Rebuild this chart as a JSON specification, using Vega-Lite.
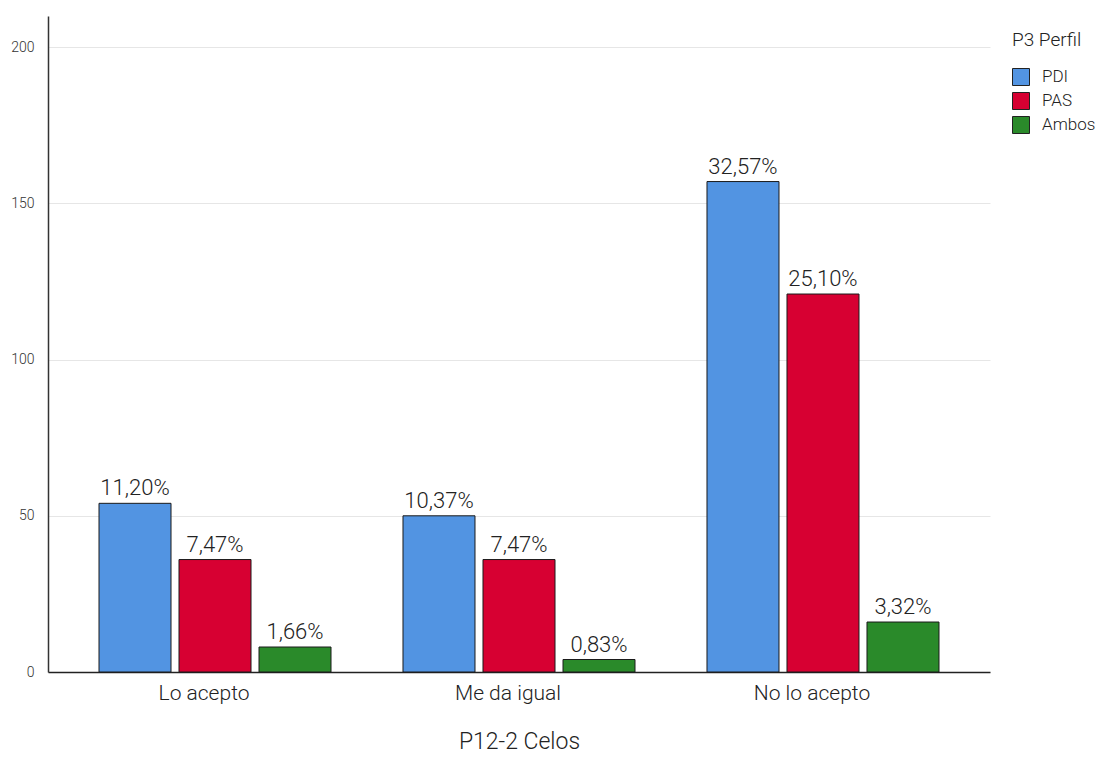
{
  "$schema": "https://vega.github.io/schema/vega-lite/v6.json",
  "width": 942,
  "height": 656,
  "autosize": {"type": "none"},
  "padding": {"left": 48, "top": 16, "right": 114, "bottom": 85},
  "background": "white",
  "config": {
    "font": "Roboto",
    "view": {"stroke": null}
  },
  "data": {
    "values": [
      {"cat": "Lo acepto", "perfil": "PDI", "n": 54, "label": "11,20%"},
      {"cat": "Lo acepto", "perfil": "PAS", "n": 36, "label": "7,47%"},
      {"cat": "Lo acepto", "perfil": "Ambos", "n": 8, "label": "1,66%"},
      {"cat": "Me da igual", "perfil": "PDI", "n": 50, "label": "10,37%"},
      {"cat": "Me da igual", "perfil": "PAS", "n": 36, "label": "7,47%"},
      {"cat": "Me da igual", "perfil": "Ambos", "n": 4, "label": "0,83%"},
      {"cat": "No lo acepto", "perfil": "PDI", "n": 157, "label": "32,57%"},
      {"cat": "No lo acepto", "perfil": "PAS", "n": 121, "label": "25,10%"},
      {"cat": "No lo acepto", "perfil": "Ambos", "n": 16, "label": "3,32%"}
    ]
  },
  "encoding": {
    "x": {
      "field": "cat",
      "type": "nominal",
      "sort": ["Lo acepto", "Me da igual", "No lo acepto"],
      "scale": {"paddingInner": 0.2368, "paddingOuter": 0.1678},
      "axis": {
        "title": "P12-2 Celos",
        "titleFont": "Roboto",
        "titleFontSize": 23,
        "titleFontWeight": 300,
        "titleColor": "#222",
        "titlePadding": 27,
        "labelAngle": 0,
        "labelFontSize": 21,
        "labelFontWeight": 300,
        "labelColor": "#222",
        "labelPadding": 10,
        "labelOffset": -11,
        "ticks": false,
        "domainColor": "#222",
        "domainWidth": 1.5
      }
    },
    "xOffset": {
      "field": "perfil",
      "type": "nominal",
      "sort": ["PDI", "PAS", "Ambos"],
      "scale": {"paddingInner": 0.1, "paddingOuter": 0}
    },
    "y": {
      "field": "n",
      "type": "quantitative",
      "scale": {"domain": [0, 210], "nice": false},
      "axis": {
        "title": null,
        "values": [0, 50, 100, 150, 200],
        "labelFontSize": 14,
        "labelFontWeight": 300,
        "labelColor": "#333",
        "labelPadding": 14,
        "ticks": false,
        "gridColor": "#e6e6e6",
        "gridWidth": 1,
        "domainColor": "#333",
        "domainWidth": 1.5
      }
    }
  },
  "layer": [
    {
      "mark": {"type": "bar", "stroke": "#1a1a1a", "strokeWidth": 1},
      "encoding": {
        "color": {
          "field": "perfil",
          "type": "nominal",
          "sort": ["PDI", "PAS", "Ambos"],
          "scale": {"domain": ["PDI", "PAS", "Ambos"], "range": ["#5294E2", "#D70032", "#2A8A2A"]},
          "legend": {
            "orient": "none",
            "legendX": 964,
            "legendY": 15,
            "title": "P3 Perfil",
            "titleFont": "Roboto",
            "titleFontSize": 19,
            "titleFontWeight": 300,
            "titleColor": "#222",
            "titlePadding": 18,
            "labelFontSize": 17,
            "labelFontWeight": 300,
            "labelColor": "#222",
            "labelOffset": 12,
            "symbolType": "square",
            "symbolSize": 289,
            "symbolStrokeColor": "#222",
            "symbolStrokeWidth": 1,
            "rowPadding": 2,
            "padding": 0
          }
        }
      }
    },
    {
      "mark": {"type": "text", "baseline": "alphabetic", "dy": -8, "fontSize": 22, "fontWeight": 300, "color": "#222"},
      "encoding": {
        "text": {"field": "label"}
      }
    }
  ]
}
